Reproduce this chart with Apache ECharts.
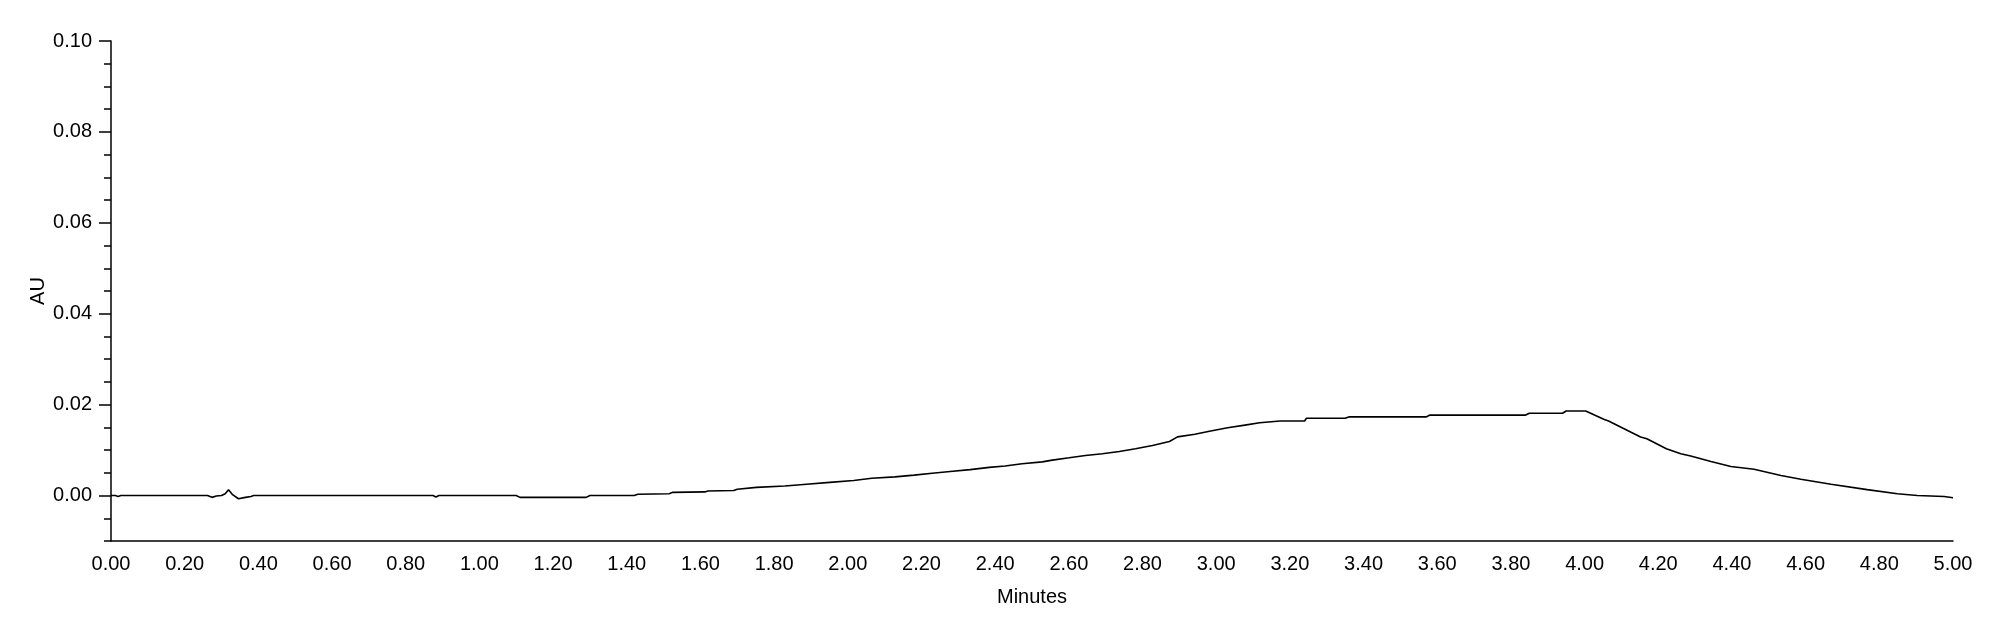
<!DOCTYPE html>
<html>
<head>
<meta charset="utf-8">
<script src="https://cdn.jsdelivr.net/npm/echarts@6/dist/echarts.min.js"></script>
<style>
  html, body { margin: 0; padding: 0; background: #fff; }
  #chart { width: 2000px; height: 630px; }
</style>
</head>
<body>
<div id="chart"></div>
<script>
// retention time (min) and absorbance (AU)
const minutes = [
  0.000, 0.012, 0.019, 0.027, 0.262, 0.274, 0.286, 0.300, 0.310, 0.319,
  0.330, 0.346, 0.365, 0.380, 0.387, 0.874, 0.882, 0.890, 1.100, 1.110,
  1.290, 1.300, 1.420, 1.430, 1.515, 1.525, 1.612, 1.620, 1.690, 1.700,
  1.752, 1.829, 1.888, 1.951, 2.016, 2.065, 2.128, 2.180, 2.229, 2.278,
  2.332, 2.384, 2.427, 2.473, 2.528, 2.555, 2.601, 2.645, 2.691, 2.737,
  2.781, 2.827, 2.873, 2.895, 2.942, 2.985, 3.031, 3.078, 3.118, 3.173,
  3.240, 3.245, 3.350, 3.360, 3.570, 3.580, 3.840, 3.850, 3.940, 3.950,
  4.003, 4.052, 4.065, 4.152, 4.169, 4.222, 4.261, 4.288, 4.343, 4.397,
  4.460, 4.533, 4.587, 4.669, 4.767, 4.849, 4.903, 4.976, 5.000
];
const absorbance = [
  0.0000, 0.0000, -0.0002, 0.0000, 0.0000, -0.0004, -0.0001, 0.0000, 0.0004, 0.0013,
  0.0002, -0.0007, -0.0004, -0.0002, 0.0000, 0.0000, -0.0003, 0.0000, 0.0000, -0.0004,
  -0.0004, 0.0000, 0.0000, 0.0003, 0.0004, 0.0007, 0.0008, 0.0010, 0.0011, 0.0014,
  0.0018, 0.0021, 0.0025, 0.0029, 0.0033, 0.0038, 0.0041, 0.0045, 0.0049, 0.0053,
  0.0057, 0.0062, 0.0065, 0.0070, 0.0074, 0.0078, 0.0083, 0.0088, 0.0092, 0.0097,
  0.0103, 0.0110, 0.0119, 0.0129, 0.0135, 0.0142, 0.0149, 0.0155, 0.0160, 0.0164,
  0.0164, 0.0170, 0.0170, 0.0173, 0.0173, 0.0177, 0.0177, 0.0181, 0.0181, 0.0186,
  0.0186, 0.0168, 0.0164, 0.0129, 0.0125, 0.0103, 0.0092, 0.0087, 0.0075, 0.0064,
  0.0058, 0.0044, 0.0036, 0.0025, 0.0013, 0.0004, 0.0000, -0.0002, -0.0005
];

// axis ticks
const yLabelValues = [0, 0.02, 0.04, 0.06, 0.08, 0.10];
const yMinorValues = [-0.01, -0.005, 0, 0.005, 0.01, 0.015, 0.02, 0.025, 0.03, 0.035,
  0.04, 0.045, 0.05, 0.055, 0.06, 0.065, 0.07, 0.075, 0.08, 0.085, 0.09, 0.095, 0.10];

const FONT = "'Liberation Sans', Arial, sans-serif";
const chart = echarts.init(document.getElementById("chart"), null, {renderer: "canvas"});

const points = minutes.map((t, i) => [t, absorbance[i]]);

chart.setOption({
  animation: false,
  backgroundColor: "#fff",
  grid: {left: 111, right: 47, top: 41, bottom: 89},
  xAxis: {
    type: "value",
    min: 0,
    max: 5,
    interval: 0.2,
    name: "Minutes",
    nameLocation: "middle",
    nameGap: 46,
    nameMoveOverlap: false,
    nameTextStyle: {color: "#000", fontSize: 20, fontFamily: FONT},
    axisLine: {onZero: false, lineStyle: {color: "#000", width: 1.5}},
    axisTick: {show: false},
    splitLine: {show: false},
    axisLabel: {
      color: "#000", fontSize: 20, fontFamily: FONT, margin: 13,
      formatter: (v) => v.toFixed(2)
    }
  },
  yAxis: [
    {
      type: "value",
      min: -0.01,
      max: 0.10,
      name: "AU",
      nameLocation: "middle",
      nameGap: 63,
      nameMoveOverlap: false,
      nameTextStyle: {color: "#000", fontSize: 20, fontFamily: FONT},
      axisLine: {show: true, lineStyle: {color: "#000", width: 1.5}},
      axisTick: {show: true, length: 12, customValues: yLabelValues, lineStyle: {color: "#000", width: 1.5}},
      splitLine: {show: false},
      axisLabel: {
        color: "#000", fontSize: 20, fontFamily: FONT, margin: 19,
        customValues: yLabelValues,
        formatter: (v) => v.toFixed(2)
      }
    },
    {
      type: "value",
      min: -0.01,
      max: 0.10,
      position: "left",
      axisLine: {show: false},
      axisTick: {show: true, length: 7, customValues: yMinorValues, lineStyle: {color: "#000", width: 1.5}},
      axisLabel: {show: false},
      splitLine: {show: false}
    }
  ],
  series: [{
    type: "line",
    data: points,
    yAxisIndex: 0,
    showSymbol: false,
    lineStyle: {color: "#000", width: 1.6},
    silent: true
  }]
});
</script>
</body>
</html>
